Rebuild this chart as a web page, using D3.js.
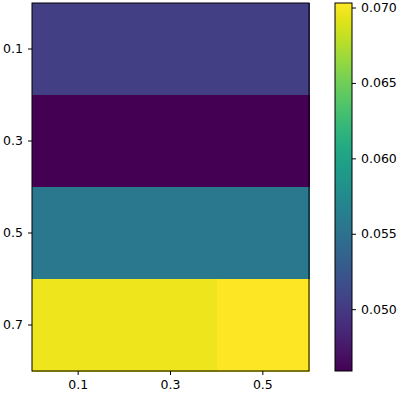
<html>
<head>
<script src="https://cdnjs.cloudflare.com/ajax/libs/d3/7.8.5/d3.min.js"></script>
<style>
  body { margin: 0; background: white; }
  text { font-family: "DejaVu Sans", sans-serif; font-size: 12.5px; fill: black; }
</style>
</head>
<body>
<div id="chart"></div>
<script>
// heatmap data, rows top to bottom
var rowLabels = ["0.1", "0.3", "0.5", "0.7"];
var colLabels = ["0.1", "0.3", "0.5"];
var values = [
  [0.0504, 0.0504, 0.0504],
  [0.0459, 0.0459, 0.0459],
  [0.0557, 0.0557, 0.0557],
  [0.0697, 0.0697, 0.0703]
];
var cbTicks = [0.050, 0.055, 0.060, 0.065, 0.070];
var vmin = 0.0459, vmax = 0.0703;

var W = 401, H = 396;
var svg = d3.select("#chart").append("svg").attr("width", W).attr("height", H);

var plot = { left: 32, right: 309, top: 3, bottom: 371 };

var x = d3.scaleBand().domain(colLabels).range([plot.left, plot.right]).padding(0);
var y = d3.scaleBand().domain(rowLabels).range([plot.top, plot.bottom]).padding(0);
var color = d3.scaleSequential(d3.interpolateViridis).domain([vmin, vmax]);

var cells = [];
values.forEach(function(row, i) {
  row.forEach(function(v, j) { cells.push({ r: rowLabels[i], c: colLabels[j], v: v }); });
});

svg.append("g").selectAll("rect")
  .data(cells)
  .enter()
  .append("rect")
  .attr("x", function(d) { return x(d.c); })
  .attr("y", function(d) { return y(d.r); })
  .attr("width", x.bandwidth() + 0.5)
  .attr("height", y.bandwidth() + 0.5)
  .attr("fill", function(d) { return color(d.v); })
  .attr("shape-rendering", "crispEdges");

svg.append("rect")
  .attr("x", plot.left).attr("y", plot.top)
  .attr("width", plot.right - plot.left).attr("height", plot.bottom - plot.top)
  .attr("fill", "none").attr("stroke", "black").attr("stroke-width", 1);

var xAxis = svg.append("g")
  .attr("transform", "translate(0," + plot.bottom + ")")
  .call(d3.axisBottom(x).tickSize(4).tickPadding(5));
var yAxis = svg.append("g")
  .attr("transform", "translate(" + plot.left + ",0)")
  .call(d3.axisLeft(y).tickSize(4).tickPadding(5));
[xAxis, yAxis].forEach(function(a) {
  a.select(".domain").remove();
  a.selectAll("text").style("font-family", "DejaVu Sans").style("font-size", "12.5px");
});

// colorbar
var cb = { left: 335, right: 352, top: 3, bottom: 371 };
var cy = d3.scaleLinear().domain([vmin, vmax]).range([cb.bottom, cb.top]);

var grad = svg.append("defs").append("linearGradient")
  .attr("id", "cbgrad")
  .attr("x1", "0").attr("y1", "1").attr("x2", "0").attr("y2", "0");
grad.selectAll("stop")
  .data(d3.range(0, 21))
  .enter()
  .append("stop")
  .attr("offset", function(i) { return (i / 20 * 100) + "%"; })
  .attr("stop-color", function(i) { return d3.interpolateViridis(i / 20); });

svg.append("rect")
  .attr("x", cb.left).attr("y", cb.top)
  .attr("width", cb.right - cb.left).attr("height", cb.bottom - cb.top)
  .attr("fill", "url(#cbgrad)");

svg.append("rect")
  .attr("x", cb.left).attr("y", cb.top)
  .attr("width", cb.right - cb.left).attr("height", cb.bottom - cb.top)
  .attr("fill", "none").attr("stroke", "black").attr("stroke-width", 1);

var cbAxis = svg.append("g")
  .attr("transform", "translate(" + cb.right + ",0)")
  .call(d3.axisRight(cy).tickValues(cbTicks).tickFormat(d3.format(".3f")).tickSize(4).tickPadding(5));
cbAxis.select(".domain").remove();
cbAxis.selectAll("text").style("font-family", "DejaVu Sans").style("font-size", "12.5px");
</script>
</body>
</html>
